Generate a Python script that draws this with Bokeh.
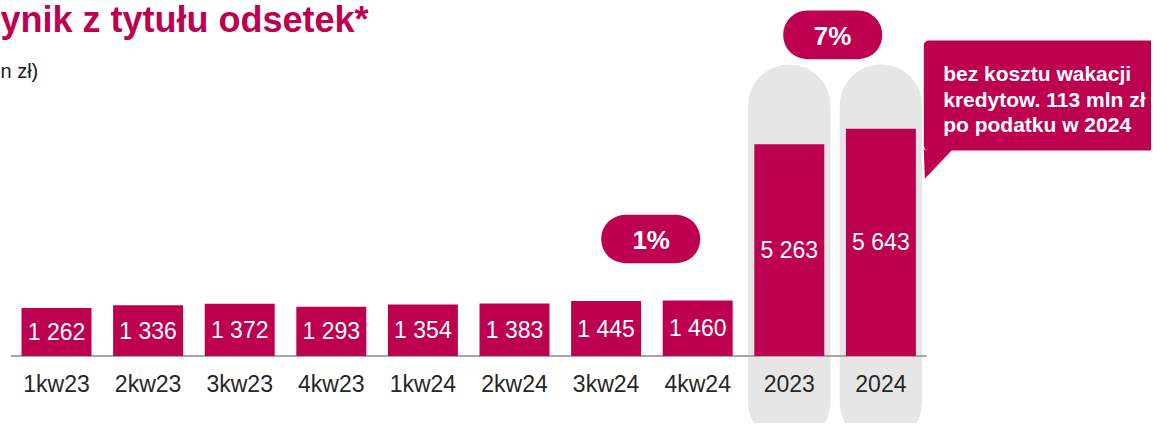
from bokeh.plotting import figure
from bokeh.models import Range1d, BoxAnnotation
from bokeh.core.properties import value
from bokeh.embed import file_html
from bokeh.resources import INLINE

# ---- data ----
quarter_labels = ["1kw23", "2kw23", "3kw23", "4kw23", "1kw24", "2kw24", "3kw24", "4kw24"]
quarter_values = [1262, 1336, 1372, 1293, 1354, 1383, 1445, 1460]
year_labels = ["2023", "2024"]
year_values = [5263, 5643]
quarter_change = "1%"
year_change = "7%"
title_text = "ynik z tytułu odsetek*"
subtitle_text = "n zł)"
note_lines = ["bez kosztu wakacji", "kredytow. 113 mln zł", "po podatku w 2024"]

CRIMSON = "#BE0050"
PILL_GRAY = "#E6E6E6"
AXIS_GRAY = "#A6A6A6"
TEXT_DARK = "#262626"
FONT = value("Liberation Sans")

W, H = 1151, 423
STEP = 91.6          # px per category
X0 = 56.0            # px of first category centre
BASE = H - 355.5     # px of baseline from bottom
Q_SCALE = 0.038      # px per unit, quarterly panel
Y_SCALE = 0.04025    # px per unit, annual panel

def fmt(v):
    return f"{v:,}".replace(",", " ")

def ty(baseline_from_top, size):
    # y (px, from bottom) for an alphabetic text whose baseline sits at the given row
    return H - baseline_from_top + 0.36 * size

n_q = len(quarter_labels)
q_x = list(range(n_q))
y_x = [n_q + i for i in range(len(year_labels))]
all_labels = quarter_labels + year_labels
all_x = q_x + y_x

p = figure(width=W, height=H, output_backend="svg", toolbar_location=None,
           x_range=Range1d(-X0 / STEP, (W - X0) / STEP),
           y_range=Range1d(-BASE / Q_SCALE, (H - BASE) / Q_SCALE),
           x_axis_location=None, y_axis_location=None, min_border=0,
           outline_line_color=None, background_fill_color="white",
           border_fill_color="white")
p.grid.visible = False
p.extra_y_ranges = {"annual": Range1d(-BASE / Y_SCALE, (H - BASE) / Y_SCALE),
                    "px": Range1d(0, H)}
p.extra_x_ranges = {"px": Range1d(0, W)}

# grey pills behind annual bars
for xc in y_x:
    p.add_layout(BoxAnnotation(left=xc - 0.45, right=xc + 0.45, top=H - 64, bottom=-20,
                               y_range_name="px", fill_color=PILL_GRAY, fill_alpha=1,
                               line_color=None, border_radius=41, level="underlay"))

# change pills and callout box (underlay so that texts sit on top)
p.add_layout(BoxAnnotation(left=600.7, right=699.7, top=H - 214.3, bottom=H - 262.7,
                           x_range_name="px", y_range_name="px", fill_color=CRIMSON,
                           fill_alpha=1, line_color=None, border_radius=24, level="underlay"))
p.add_layout(BoxAnnotation(left=782.7, right=881.7, top=H - 10, bottom=H - 58.7,
                           x_range_name="px", y_range_name="px", fill_color=CRIMSON,
                           fill_alpha=1, line_color=None, border_radius=24, level="underlay"))
p.add_layout(BoxAnnotation(left=923.3, right=1180, top=H - 40, bottom=H - 150,
                           x_range_name="px", y_range_name="px", fill_color=CRIMSON,
                           fill_alpha=1, line_color=None, border_radius=5, level="underlay"))
p.patch(x=[923.3, 952, 924.3], y=[H - 149, H - 149, H - 178.3], x_range_name="px",
        y_range_name="px", fill_color=CRIMSON, line_color=None)

# baseline
p.segment(x0=[-0.5], x1=[len(all_labels) - 0.5], y0=[0], y1=[0],
          line_color=AXIS_GRAY, line_width=2)

# bars
p.vbar(x=q_x, top=quarter_values, bottom=0, width=0.764, fill_color=CRIMSON, line_color=None)
p.vbar(x=y_x, top=year_values, bottom=0, width=0.764, fill_color=CRIMSON, line_color=None,
       y_range_name="annual")

# value labels
p.text(x=q_x, y=[v / 2 for v in quarter_values], text=[fmt(v) for v in quarter_values],
       text_align="center", text_baseline="alphabetic", y_offset=0,
       text_color="white", text_font=FONT, text_font_size="23px")
p.text(x=y_x, y=[v / 2 for v in year_values], text=[fmt(v) for v in year_values],
       text_align="center", text_baseline="alphabetic", y_offset=0,
       text_color="white", text_font=FONT, text_font_size="23px", y_range_name="annual")

# category labels
p.text(x=all_x, y=[ty(391.7, 23)] * len(all_x), text=all_labels, y_range_name="px",
       text_align="center", text_baseline="alphabetic",
       text_color=TEXT_DARK, text_font=FONT, text_font_size="23px")

# change texts
p.text(x=[650.7, 832], y=[ty(249.3, 26), ty(45, 26)], text=[quarter_change, year_change],
       x_range_name="px", y_range_name="px", text_align="center",
       text_baseline="alphabetic", text_color="white", text_font=FONT,
       text_font_style="bold", text_font_size="26px")

# callout text
p.text(x=[942.7] * 3, y=[ty(81, 21), ty(106.7, 21), ty(131.7, 21)], text=note_lines,
       x_range_name="px", y_range_name="px", text_align="left",
       text_baseline="alphabetic", text_color="white", text_font=FONT,
       text_font_style="bold", text_font_size="21px")

# title & subtitle
p.text(x=[0], y=[ty(32, 36)], text=[title_text], x_range_name="px", y_range_name="px",
       text_align="left", text_baseline="alphabetic", text_color=CRIMSON,
       text_font=FONT, text_font_style="bold", text_font_size="36px")
p.text(x=[0], y=[ty(77.3, 20)], text=[subtitle_text], x_range_name="px", y_range_name="px",
       text_align="left", text_baseline="alphabetic", text_color="#1a1a1a",
       text_font=FONT, text_font_size="20px")

open("out.html", "w").write(file_html(p, INLINE))
